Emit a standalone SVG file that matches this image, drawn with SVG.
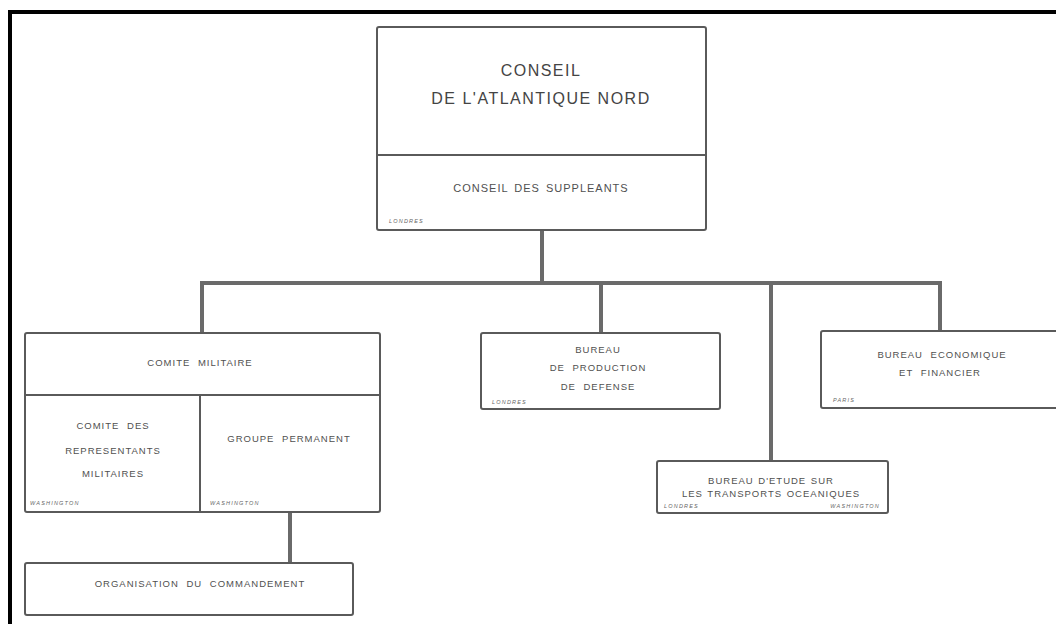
<svg xmlns="http://www.w3.org/2000/svg" width="1056" height="624" viewBox="0 0 1056 624">
<style>
.box{fill:#fff;stroke:#5a5a5a;stroke-width:2}
.div{stroke:#5a5a5a;stroke-width:2;fill:none}
.conn{stroke:#6a6a6a;stroke-width:4;fill:none;stroke-linecap:square}
.t{font-family:"Liberation Sans",Arial,sans-serif;fill:#505050;text-anchor:middle;font-size:9.5px;letter-spacing:1px;word-spacing:4px}
.big{font-size:16px;letter-spacing:1.5px;word-spacing:0;fill:#444}
.mid{font-size:11px;letter-spacing:1px;word-spacing:2px}
.tight{word-spacing:1px}
.loc{font-family:"Liberation Sans",Arial,sans-serif;fill:#666;font-size:5.5px;font-style:italic;letter-spacing:1.2px}
</style>
<rect x="0" y="0" width="1056" height="624" fill="#fff"/>
<path d="M10,624 V12 H1056" fill="none" stroke="#000" stroke-width="4"/>
<g id="connectors">
<path class="conn" d="M542,231 V283"/>
<path class="conn" d="M202,332 V283 H940 V330"/>
<path class="conn" d="M601,283 V332"/>
<path class="conn" d="M771,283 V460"/>
<path class="conn" d="M290,513 V562"/>
</g>
<g id="conseil">
<rect class="box" x="377" y="27" width="329" height="203" rx="2"/>
<line class="div" x1="377" y1="155" x2="706" y2="155"/>
<text class="t big" x="541" y="76">CONSEIL</text>
<text class="t big" x="541" y="104">DE L'ATLANTIQUE NORD</text>
<text class="t mid" x="541" y="192">CONSEIL DES SUPPLEANTS</text>
<text class="loc" x="389" y="223">LONDRES</text>
</g>
<g id="comite-militaire">
<rect class="box" x="25" y="333" width="355" height="179" rx="2"/>
<line class="div" x1="25" y1="395" x2="380" y2="395"/>
<line class="div" x1="200" y1="395" x2="200" y2="512"/>
<text class="t" x="200" y="366">COMITE MILITAIRE</text>
</g>
<g id="comite-representants">
<text class="t" x="113" y="429">COMITE DES</text>
<text class="t" x="113" y="454">REPRESENTANTS</text>
<text class="t" x="113" y="477">MILITAIRES</text>
<text class="loc" x="30" y="505">WASHINGTON</text>
</g>
<g id="groupe-permanent">
<text class="t" x="289" y="442">GROUPE PERMANENT</text>
<text class="loc" x="210" y="505">WASHINGTON</text>
</g>
<g id="organisation">
<rect class="box" x="25" y="563" width="328" height="52" rx="2"/>
<text class="t" x="200" y="587">ORGANISATION DU COMMANDEMENT</text>
</g>
<g id="bureau-production">
<rect class="box" x="481" y="333" width="239" height="76" rx="2"/>
<text class="t" x="598" y="353">BUREAU</text>
<text class="t" x="598" y="371">DE PRODUCTION</text>
<text class="t" x="598" y="390">DE DEFENSE</text>
<text class="loc" x="492" y="404">LONDRES</text>
</g>
<g id="bureau-economique">
<rect class="box" x="821" y="331" width="250" height="77" rx="2"/>
<text class="t" x="942" y="358">BUREAU ECONOMIQUE</text>
<text class="t" x="940" y="376">ET FINANCIER</text>
<text class="loc" x="833" y="402">PARIS</text>
</g>
<g id="bureau-etude">
<rect class="box" x="657" y="461" width="231" height="52" rx="2"/>
<text class="t tight" x="771" y="484">BUREAU D'ETUDE SUR</text>
<text class="t tight" x="771" y="497">LES TRANSPORTS OCEANIQUES</text>
<text class="loc" x="664" y="508">LONDRES</text>
<text class="loc" x="880" y="508" text-anchor="end">WASHINGTON</text>
</g>
</svg>
